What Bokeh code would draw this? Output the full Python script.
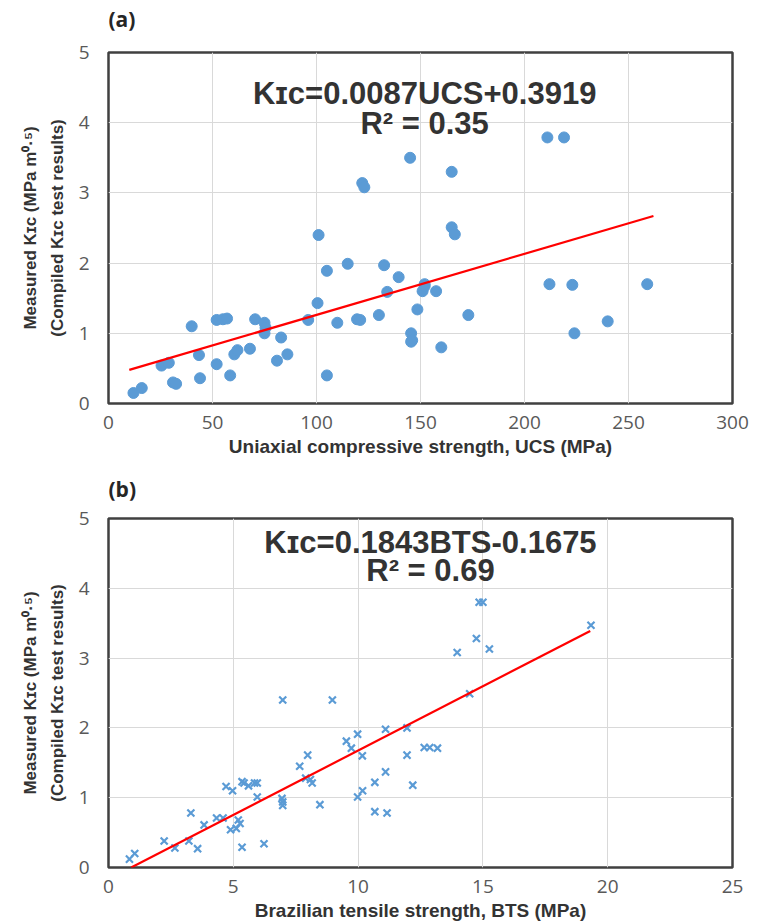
from bokeh.plotting import figure
from bokeh.models import Label, Range1d, FixedTicker, ColumnDataSource
from bokeh.core.properties import value
from bokeh.layouts import column
from bokeh.embed import file_html
from bokeh.resources import INLINE

# ---------------- data: panel (a) ----------------
ucs = [12, 16, 25.5, 29, 31, 32.5, 40, 43.5, 44, 52, 52, 55, 57, 58.5, 60.5, 62, 68,
       70.5, 75, 75.5, 75, 81, 83, 86, 96, 100.5, 101, 105, 105, 110, 115, 119.5, 121,
       122, 123, 130, 132.5, 134, 139.5, 145, 145.5, 146, 145.5, 148.5, 151, 152, 152,
       157.5, 160, 165, 165, 166.5, 173, 211, 212, 219, 223, 224, 240, 259]
kic_a = [0.15, 0.22, 0.54, 0.58, 0.30, 0.28, 1.10, 0.69, 0.36, 0.56, 1.19, 1.20, 1.21, 0.40, 0.70, 0.76, 0.78,
         1.20, 1.15, 1.08, 1.00, 0.61, 0.94, 0.70, 1.19, 1.43, 2.40, 0.40, 1.89, 1.15, 1.99, 1.20, 1.19,
         3.14, 3.08, 1.26, 1.97, 1.59, 1.80, 3.50, 1.00, 0.90, 0.88, 1.34, 1.60, 1.67, 1.70,
         1.60, 0.80, 3.30, 2.51, 2.41, 1.26, 3.79, 1.70, 3.79, 1.69, 1.00, 1.17, 1.70]
fit_a_slope, fit_a_icpt = 0.0087, 0.3919
fit_a_x = [10, 262]
eq_a = "K\u026a\u1d04=0.0087UCS+0.3919"
r2_a = "R\u00b2 = 0.35"
ucs_ticks = [0, 50, 100, 150, 200, 250, 300]

# ---------------- data: panel (b) ----------------
bts = [0.84, 1.05, 2.23, 2.66, 3.22, 3.30, 3.57, 3.83, 4.33, 4.59, 4.71, 4.89, 4.97, 5.12, 5.2, 5.27,
       5.35, 5.35, 5.43, 5.61, 5.85, 5.96, 5.96, 6.23, 6.95, 6.98, 6.98, 6.98, 7.66, 7.9, 7.98, 8.09,
       8.16, 8.47, 8.97, 9.53, 9.73, 9.98, 9.98, 10.17, 10.18, 10.67, 10.67, 11.1, 11.1, 11.16, 11.96,
       11.96, 12.19, 12.65, 12.87, 13.18, 13.97, 14.47, 14.74, 14.85, 15.0, 15.26, 19.33]
kic_b = [0.12, 0.20, 0.38, 0.28, 0.38, 0.78, 0.27, 0.61, 0.71, 0.71, 1.16, 0.54, 1.10, 0.56, 0.68, 0.63,
         0.29, 1.23, 1.21, 1.17, 1.21, 1.21, 1.01, 0.34, 0.99, 0.94, 0.89, 2.40, 1.45, 1.28, 1.61, 1.26,
         1.21, 0.90, 2.40, 1.81, 1.71, 1.01, 1.91, 1.60, 1.10, 1.22, 0.80, 1.37, 1.98, 0.78, 2.00,
         1.61, 1.18, 1.72, 1.72, 1.71, 3.08, 2.49, 3.28, 3.80, 3.80, 3.13, 3.47]
fit_b_slope, fit_b_icpt = 0.1843, -0.1675
fit_b_x = [0.909, 19.3]
eq_b = "K\u026a\u1d04=0.1843BTS-0.1675"
r2_b = "R\u00b2 = 0.69"
bts_ticks = [0, 5, 10, 15, 20, 25]

kic_ticks = [0, 1, 2, 3, 4, 5]
y_label = "Measured K\u026a\u1d04 (MPa m\u2070\u00b7\u2075)\n(Compiled K\u026a\u1d04 test results)"
panel_tags = ["(a)", "(b)"]

BLUE = "#5B9BD5"
TXT = "#333333"
TICK = "#595959"
W = 755
BL, BR = 108, 23          # left / right borders shared by every row
FW = W - BL - BR          # frame width


def style(p, xlabel, xticks):
    p.xaxis.ticker = FixedTicker(ticks=xticks)
    p.yaxis.ticker = FixedTicker(ticks=kic_ticks)
    p.xgrid.grid_line_color = "#d9d9d9"
    p.ygrid.grid_line_color = "#d9d9d9"
    p.xgrid.grid_line_width = 1
    p.ygrid.grid_line_width = 1
    p.outline_line_color = "#404040"
    p.outline_line_width = 2.5
    p.outline_line_alpha = 1
    for ax in (p.xaxis, p.yaxis):
        ax.axis_line_color = None
        ax.major_tick_line_color = None
        ax.minor_tick_line_color = None
        ax.major_label_text_font = "Open Sans"
        ax.major_label_text_font_size = "19px"
        ax.major_label_text_color = TICK
        ax.axis_label_text_font = "Liberation Sans"
        ax.axis_label_text_font_style = "bold"
        ax.axis_label_text_color = TXT
    p.xaxis.axis_label = xlabel
    p.xaxis.axis_label_text_font_size = "19px"
    p.xaxis.major_label_standoff = 6
    p.xaxis.axis_label_standoff = 4
    p.yaxis.axis_label = y_label
    p.yaxis.axis_label_text_font_size = "17px"
    p.yaxis.major_label_standoff = 13
    p.yaxis.axis_label_standoff = 9
    p.yaxis.axis_label_text_line_height = 1.4


def add_text(p, x, y, txt, size="31px"):
    p.add_layout(Label(x=x, y=y, text=txt, text_align="center", text_baseline="middle",
                       text_font="Liberation Sans", text_font_style="bold",
                       text_font_size=size, text_color=TXT))


def tag_strip(txt, h, y):
    t = figure(width=W, height=h, output_backend="svg", toolbar_location=None,
               x_range=Range1d(0, FW), y_range=Range1d(0, h),
               x_axis_type=None, y_axis_type=None,
               min_border_left=BL, min_border_right=BR, min_border_top=0, min_border_bottom=0)
    t.grid.visible = False
    t.outline_line_color = None
    t.text(x=[0], y=[y], text=[txt], text_align="left", text_baseline="middle",
           text_font=value("Open Sans"), text_font_style="bold",
           text_font_size="21px", text_color="#262626")
    return t


# ---------------- panel (a) ----------------
tag_a = tag_strip(panel_tags[0], 34, 16)
pa = figure(width=W, height=436, output_backend="svg", toolbar_location=None,
            x_range=Range1d(0, 300), y_range=Range1d(0, 5),
            min_border_left=BL, min_border_right=BR, min_border_top=18, min_border_bottom=67)
style(pa, "Uniaxial compressive strength, UCS (MPa)", ucs_ticks)
src_a = ColumnDataSource(dict(x=ucs, y=kic_a))
pa.scatter("x", "y", source=src_a, size=11, marker="circle", fill_color=BLUE, line_color=BLUE)
pa.line(fit_a_x, [fit_a_slope * v + fit_a_icpt for v in fit_a_x], line_color="#FF0000", line_width=2.2)
add_text(pa, 152, 4.42, eq_a)
add_text(pa, 152, 3.99, r2_a)

# ---------------- panel (b) ----------------
tag_b = tag_strip(panel_tags[1], 34, 16)
pb = figure(width=W, height=420, output_backend="svg", toolbar_location=None,
            x_range=Range1d(0, 25), y_range=Range1d(0, 5),
            min_border_left=BL, min_border_right=BR, min_border_top=14, min_border_bottom=57)
style(pb, "Brazilian tensile strength, BTS (MPa)", bts_ticks)
src_b = ColumnDataSource(dict(x=bts, y=kic_b))
pb.scatter("x", "y", source=src_b, size=10, marker="x", line_color=BLUE, line_width=2.2)
pb.line(fit_b_x, [fit_b_slope * v + fit_b_icpt for v in fit_b_x], line_color="#FF0000", line_width=2.2)
add_text(pb, 12.9, 4.66, eq_b)
add_text(pb, 12.9, 4.25, r2_b)

layout = column(tag_a, pa, tag_b, pb, spacing=0)
open("out.html", "w").write(file_html(layout, INLINE))
